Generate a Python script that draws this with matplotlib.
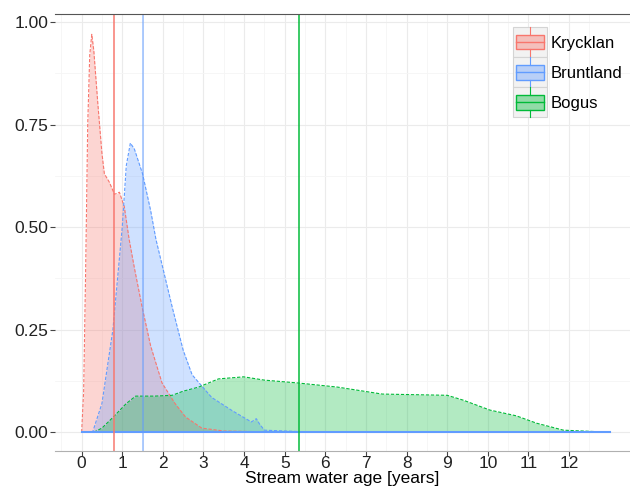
import matplotlib.pyplot as plt
from matplotlib.legend_handler import HandlerBase
from matplotlib.patches import Rectangle
from matplotlib.lines import Line2D

plt.rcParams['font.family'] = ['Liberation Sans', 'DejaVu Sans']

# density curves
kry_x = [0.0, 0.05, 0.1, 0.15, 0.2, 0.25, 0.3, 0.4, 0.5, 0.56, 0.68, 0.81, 0.93, 1.05, 1.17,
         1.3, 1.49, 1.7, 1.98, 2.3, 2.56, 2.96, 3.5, 4.5, 6.0]
kry_y = [0.0, 0.1, 0.4, 0.75, 0.92, 0.97, 0.93, 0.8, 0.68, 0.63, 0.61, 0.58, 0.585, 0.55, 0.47,
         0.4, 0.305, 0.21, 0.12, 0.07, 0.037, 0.01, 0.003, 0.001, 0.0]

bru_x = [0.0, 0.27, 0.5, 0.77, 1.0, 1.1, 1.2, 1.3, 1.5, 1.7, 1.83, 2.0, 2.23, 2.5, 2.72, 3.2,
         3.7, 4.18, 4.3, 4.38, 4.5, 5.5, 13.0]
bru_y = [0.0, 0.0, 0.07, 0.25, 0.5, 0.65, 0.705, 0.69, 0.63, 0.54, 0.47, 0.4, 0.305, 0.2, 0.14,
         0.085, 0.053, 0.025, 0.033, 0.02, 0.005, 0.001, 0.0]

bog_x = [0.3, 0.5, 0.77, 1.1, 1.33, 1.8, 2.23, 2.5, 2.88, 3.37, 3.99, 4.5, 5.33, 6.3, 7.4,
         9.0, 9.4, 10.05, 10.7, 11.2, 11.86, 13.0]
bog_y = [0.0, 0.01, 0.036, 0.07, 0.088, 0.088, 0.09, 0.1, 0.11, 0.13, 0.135, 0.127, 0.12, 0.11,
         0.093, 0.09, 0.078, 0.054, 0.04, 0.022, 0.005, 0.0]

names = ["Krycklan", "Bruntland", "Bogus"]
medians = [0.8, 1.5, 5.35]
colors = ["#F8766D", "#619CFF", "#00BA38"]


class BoxHandler(HandlerBase):
    """ Draws a ggplot-like boxplot key. """
    def create_artists(self, legend, orig, xd, yd, w, h, fontsize, trans):
        c = orig.get_facecolor()
        ec = orig.get_edgecolor()
        pad = 0.38 * fontsize
        x0, y0 = -xd, -yd
        bg = Rectangle((x0 - 2, y0 - pad), w + 4, h + 2 * pad, facecolor="#f2f2f2",
                       edgecolor="#d4d4d4", lw=0.8, transform=trans)
        box = Rectangle((x0, y0 + 1), w, h - 2, facecolor=c, alpha=0.4,
                        edgecolor="none", transform=trans)
        edge = Rectangle((x0, y0 + 1), w, h - 2, facecolor="none", edgecolor=ec, lw=1,
                         transform=trans)
        cx = x0 + w / 2
        mid = Line2D([x0, x0 + w], [y0 + h / 2] * 2, color=ec, lw=1, transform=trans)
        wh1 = Line2D([cx, cx], [y0 + h - 1, y0 + h + pad], color=ec, lw=0.8, transform=trans)
        wh2 = Line2D([cx, cx], [y0 + 1, y0 - pad], color=ec, lw=0.8, transform=trans)
        return [bg, box, edge, mid, wh1, wh2]


fig = plt.figure(figsize=(6.3, 4.93), dpi=100)
ax = fig.add_axes([0.087, 0.085, 0.913, 0.887])

series = [(kry_x, kry_y), (bru_x, bru_y), (bog_x, bog_y)]
for (x, y), c in zip(series, colors):
    ax.fill_between(x, y, color=c, alpha=0.3, lw=0)
    ax.plot(x, y, color=c, lw=0.8, ls=(0, (3, 1.5)))
ax.plot([0, 13], [0, 0], color=colors[1], lw=1.5)

vline_alpha = [0.9, 0.6, 0.9]
for m, c, a in zip(medians, colors, vline_alpha):
    ax.axvline(m, color=c, lw=1.2, alpha=a)

ax.set_xlim(-0.66, 13.4)
ax.set_ylim(-0.046, 1.02)
ax.set_xticks(range(0, 13))
ax.set_xticks([i + 0.5 for i in range(-1, 14)], minor=True)
ax.set_yticks([0, 0.25, 0.5, 0.75, 1.0])
ax.set_yticklabels(["0.00", "0.25", "0.50", "0.75", "1.00"])
ax.set_yticks([0.125, 0.375, 0.625, 0.875], minor=True)
ax.grid(which="major", color="#ebebeb", lw=0.8)
ax.grid(which="minor", color="#f5f5f5", lw=0.6)
ax.set_axisbelow(True)

for s in ["left", "right"]:
    ax.spines[s].set_visible(False)
ax.spines["top"].set_color("#555555")
ax.spines["top"].set_linewidth(0.8)
ax.spines["bottom"].set_color("#b0b0b0")
ax.spines["bottom"].set_linewidth(0.8)
ax.tick_params(axis="both", which="major", labelsize=12.5, color="#444444", length=3.5,
               labelcolor="#222222")
ax.tick_params(axis="y", pad=1)
ax.tick_params(axis="x", pad=0)
ax.tick_params(which="minor", length=0)
ax.set_xlabel("Stream water age [years]", fontsize=12.5, labelpad=0)

handles = [Rectangle((0, 0), 1, 1, facecolor=c, edgecolor=c) for c in colors]
ax.legend(handles, names, handler_map={Rectangle: BoxHandler()}, loc="upper right",
          bbox_to_anchor=(1.012, 0.99), frameon=False, fontsize=12,
          handlelength=1.7, handleheight=1.25, labelspacing=0.75, handletextpad=0.35)

fig.savefig("out.png")
